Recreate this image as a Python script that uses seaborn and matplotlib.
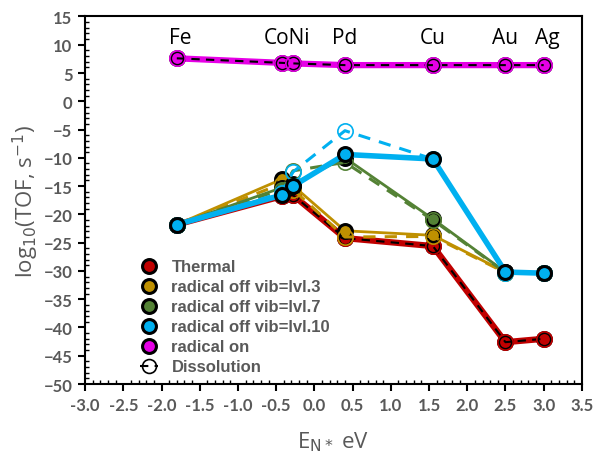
import matplotlib
matplotlib.use("Agg")
import matplotlib.pyplot as plt
from matplotlib.lines import Line2D
from matplotlib.ticker import MultipleLocator
import seaborn as sns
import pandas as pd

metals = ["Fe", "Co", "Ni", "Pd", "Cu", "Au", "Ag"]
e_n = [-1.80, -0.43, -0.28, 0.40, 1.55, 2.50, 3.00]

thermal = [-21.8, -16.8, -16.6, -24.2, -25.6, -42.6, -42.0]
lvl3 = [-21.8, -13.8, -14.9, -22.9, -23.7, -30.2, -30.4]
lvl7 = [-21.8, -15.3, -14.6, -10.0, -20.8, -30.2, -30.4]
lvl10 = [-21.8, -16.6, -15.0, -9.4, -10.2, -30.2, -30.4]
rad_on = [7.6, 6.8, 6.7, 6.4, 6.4, 6.4, 6.4]

diss_thermal = [-21.8, -16.8, -16.6, -24.2, -25.6, -42.6, -42.0]
diss_lvl3 = [-21.8, -14.6, -15.6, -24.0, -23.9, -30.3, -30.4]
diss_lvl7 = [-21.8, -15.6, -12.3, -10.8, -21.0, -30.3, -30.4]
diss_lvl10 = [-21.8, -16.2, -12.5, -5.2, -10.2, -30.3, -30.4]
diss_rad_on = [7.6, 6.8, 6.7, 6.4, 6.4, 6.4, 6.4]

labels = ["Thermal", "radical off vib=lvl.3", "radical off vib=lvl.7",
          "radical off vib=lvl.10", "radical on", "Dissolution"]
label_text = ["Fe", "CoNi", "Pd", "Cu", "Au", "Ag"]
label_x = [-1.75, -0.36, 0.40, 1.55, 2.50, 3.05]
label_y = [11.3, 11.3, 11.3, 11.3, 11.3, 11.3]

c_red = "#C00000"
c_yel = "#BF9000"
c_grn = "#548235"
c_blu = "#00B0F0"
c_mag = "#E600E6"
gray = "#595959"

sns.set_style("white")
plt.rcParams["font.family"] = ["Lato", "DejaVu Sans"]

fig = plt.figure(figsize=(5.95, 4.6), dpi=100)
ax = fig.add_axes([0.143, 0.163, 0.835, 0.799])

def solid(y, color, lw, z):
    df = pd.DataFrame({"x": e_n, "y": y})
    sns.lineplot(data=df, x="x", y="y", ax=ax, sort=False, color=color, lw=lw,
                 marker="o", markersize=10, markerfacecolor=color,
                 markeredgecolor="black", markeredgewidth=2.2, zorder=z,
                 estimator=None)

def diss(y, color, mcolor, lw, z):
    df = pd.DataFrame({"x": e_n, "y": y})
    sns.lineplot(data=df, x="x", y="y", ax=ax, sort=False, color=color, lw=lw,
                 linestyle=(0, (4, 3)), marker="o", markersize=11,
                 markerfacecolor="none", markeredgecolor=mcolor,
                 markeredgewidth=1.2, zorder=z, estimator=None)

solid(thermal, c_red, 4.5, 3)
diss(diss_thermal, "black", c_red, 1.5, 3.5)
solid(lvl3, c_yel, 2.0, 4)
diss(diss_lvl3, c_yel, c_yel, 2.2, 4.5)
solid(lvl7, c_grn, 2.0, 5)
diss(diss_lvl7, c_grn, c_grn, 2.2, 5.5)
diss(diss_lvl10, c_blu, c_blu, 2.2, 6)
solid(lvl10, c_blu, 4.0, 6.5)
solid(rad_on, c_mag, 4.5, 7)
diss(diss_rad_on, "black", c_mag, 1.5, 7.5)

for t, x, y in zip(label_text, label_x, label_y):
    ax.text(x, y, t, ha="center", va="center", fontsize=15, color="black",
            family=["Open Sans", "DejaVu Sans"])

ax.set_xlim(-3.0, 3.5)
ax.set_ylim(-50, 15)
ax.xaxis.set_major_locator(MultipleLocator(0.5))
ax.xaxis.set_minor_locator(MultipleLocator(0.1))
ax.yaxis.set_major_locator(MultipleLocator(5))
ax.yaxis.set_minor_locator(MultipleLocator(1))
ax.set_xticklabels([f"{v:.1f}" for v in ax.get_xticks()])
ax.tick_params(which="major", direction="out", length=5, width=1.5,
               colors="black", labelcolor=gray, labelsize=12,
               bottom=True, left=True, pad=4)
ax.tick_params(which="minor", direction="in", length=3, width=1,
               colors="black", bottom=True, left=True)
for lab in ax.get_xticklabels() + ax.get_yticklabels():
    lab.set_fontweight("bold")
for s in ax.spines.values():
    s.set_color("black")
    s.set_linewidth(1.5)

ax.set_xlabel("E$_{\\mathrm{N*}}$ eV", fontsize=16, color=gray,
              family=["Open Sans", "DejaVu Sans"], labelpad=12)
ax.set_ylabel("log$_{\\mathrm{10}}$(TOF, s$^{\\mathrm{-1}}$)", fontsize=16,
              color=gray, family=["Open Sans", "DejaVu Sans"], labelpad=2)

cols = [c_red, c_yel, c_grn, c_blu, c_mag]
handles = [Line2D([], [], ls="none", marker="o", markersize=10,
                  markerfacecolor=c, markeredgecolor="black",
                  markeredgewidth=2.2) for c in cols]
handles.append(Line2D([], [], ls=(0, (4, 3)), color="black", lw=1.5,
                      marker="o", markersize=10, markerfacecolor="none",
                      markeredgecolor="black", markeredgewidth=1.2))
leg = ax.legend(handles, labels, loc="upper left",
                bbox_to_anchor=(0.08, 0.38), frameon=False,
                handlelength=1.1, handletextpad=0.8, labelspacing=0.3,
                prop={"family": ["Liberation Sans", "DejaVu Sans"],
                      "weight": "bold", "size": 12})
for t in leg.get_texts():
    t.set_color(gray)

fig.savefig("out.png", dpi=100)
